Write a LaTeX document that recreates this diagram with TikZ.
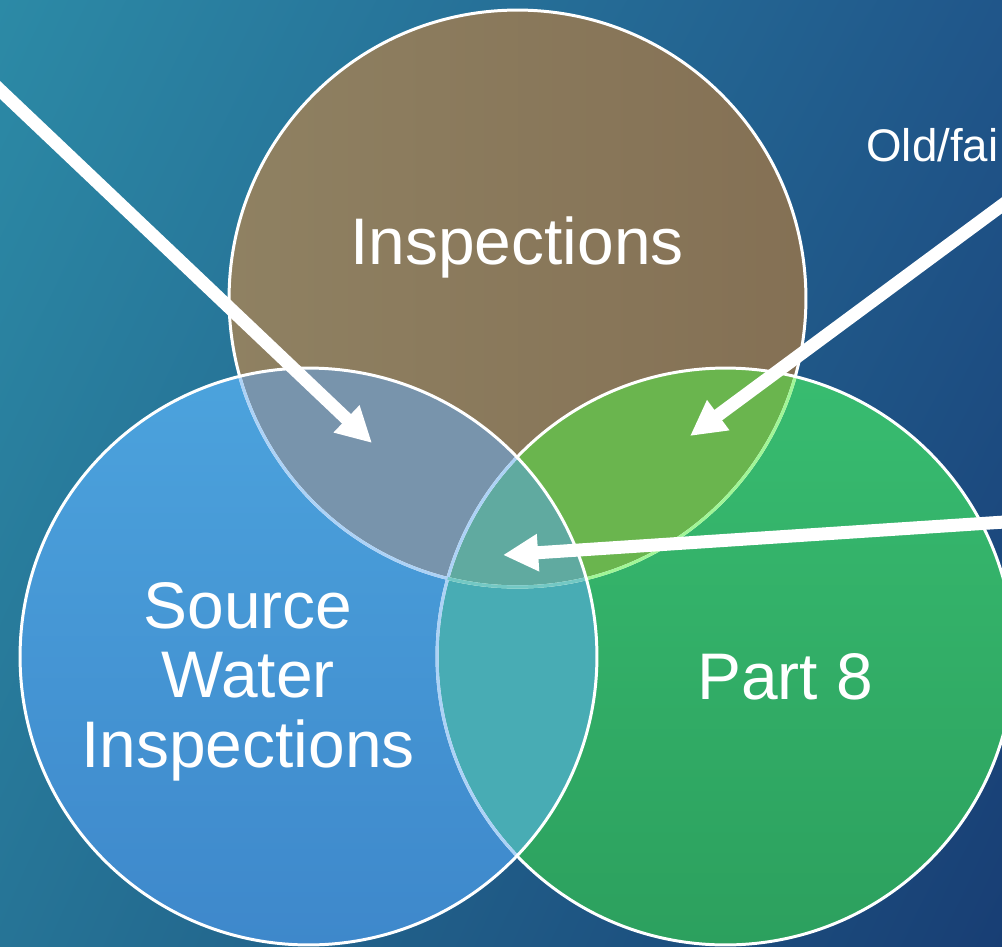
\documentclass[tikz,border=0pt]{standalone}
\usepackage{fontspec}
\setmainfont{Liberation Sans}
\usetikzlibrary{arrows.meta,shadings}

\definecolor{bgtl}{RGB}{44,138,166}
\definecolor{bgtr}{RGB}{32,86,138}
\definecolor{bgbl}{RGB}{38,116,150}
\definecolor{bgbr}{RGB}{24,62,116}
\definecolor{inspL}{RGB}{143,129,98}
\definecolor{inspR}{RGB}{132,112,84}
\definecolor{srcT}{RGB}{76,163,221}
\definecolor{srcB}{RGB}{62,136,203}
\definecolor{partT}{RGB}{56,188,112}
\definecolor{partB}{RGB}{44,160,94}
\definecolor{ovTL}{RGB}{120,148,172}
\definecolor{ovTR}{RGB}{106,181,78}
\definecolor{ovLR}{RGB}{72,172,180}
\definecolor{ovAll}{RGB}{96,170,160}
\definecolor{rimBlue}{RGB}{172,210,246}
\definecolor{rimGreen}{RGB}{160,246,150}
\definecolor{rimTeal}{RGB}{115,200,196}

\begin{document}
\begin{tikzpicture}[x=0.02cm,y=-0.02cm]
	\tikzset{vlabel/.style={text=white, font=\fontsize{37.5}{39.5}\selectfont, align=center, inner sep=0pt}}
	\tikzset{vrim/.style={line width=1.7pt}}
	\tikzset{varrow/.style={draw=white, line width=7.4pt,
				-{Triangle[length=20pt,width=20pt]}}}

	\useasboundingbox (0,0) rectangle (1002,947);
	\clip (0,0) rectangle (1002,947);
	\shade[upper left=bgtl, upper right=bgtr, lower left=bgbl, lower right=bgbr]
		(0,0) rectangle (1002,947);

	% circle centres
	\coordinate (ctop) at (517.5,298.5);
	\coordinate (cleft) at (308.5,656.5);
	\coordinate (cright) at (725.5,656.5);

	% fills
	\shade[left color=inspL, right color=inspR] (ctop) circle [radius=5.77cm];
	\shade[top color=partT, bottom color=partB] (cright) circle [radius=5.77cm];
	\shade[top color=srcT, bottom color=srcB] (cleft) circle [radius=5.77cm];

	% overlaps
	\begin{scope}
		\clip (ctop) circle [radius=5.77cm];
		\fill[ovTR] (cright) circle [radius=5.77cm];
		\fill[ovTL] (cleft) circle [radius=5.77cm];
	\end{scope}
	\begin{scope}
		\clip (cleft) circle [radius=5.77cm];
		\fill[ovLR] (cright) circle [radius=5.77cm];
	\end{scope}
	\begin{scope}
		\clip (ctop) circle [radius=5.77cm];
		\clip (cleft) circle [radius=5.77cm];
		\fill[ovAll] (cright) circle [radius=5.77cm];
	\end{scope}

	% outlines
	\draw[vrim, white] (ctop) circle [radius=5.77cm];
	\begin{scope}
		\clip (cright) circle [radius=5.77cm];
		\draw[vrim, rimGreen] (ctop) circle [radius=5.77cm];
	\end{scope}
	\draw[vrim, white] (cright) circle [radius=5.77cm];
	\begin{scope}
		\clip (cleft) circle [radius=5.77cm];
		\draw[vrim, rimBlue] (ctop) circle [radius=5.77cm];
		\draw[vrim, rimBlue] (cright) circle [radius=5.77cm];
	\end{scope}
	\begin{scope}
		\clip (cleft) circle [radius=5.77cm];
		\clip (cright) circle [radius=5.77cm];
		\draw[vrim, rimTeal] (ctop) circle [radius=5.77cm];
	\end{scope}
	\draw[vrim, white] (cleft) circle [radius=5.77cm];

	% labels
	\node[vlabel, anchor=base] (insp) at (517,264) {Inspections};
	\node[vlabel, anchor=base] (source) at (248,767) {Source\\Water\\Inspections};
	\node[vlabel, anchor=base] (part) at (785,699) {Part 8};
	\node[text=white, font=\fontsize{26}{28}\selectfont, anchor=base west, inner sep=0pt]
		(oldfail) at (866,161) {Old/fai};

	% arrows
	\coordinate (s1) at (-20,71);
	\coordinate (t1) at (372,443);
	\coordinate (s2) at (1020,192);
	\coordinate (t2) at (690,436);
	\coordinate (s3) at (1020,521);
	\coordinate (t3) at (503,555);
	\draw[varrow] (s1) -- (t1);
	\draw[varrow] (s2) -- (t2);
	\draw[varrow] (s3) -- (t3);
\end{tikzpicture}
\end{document}
